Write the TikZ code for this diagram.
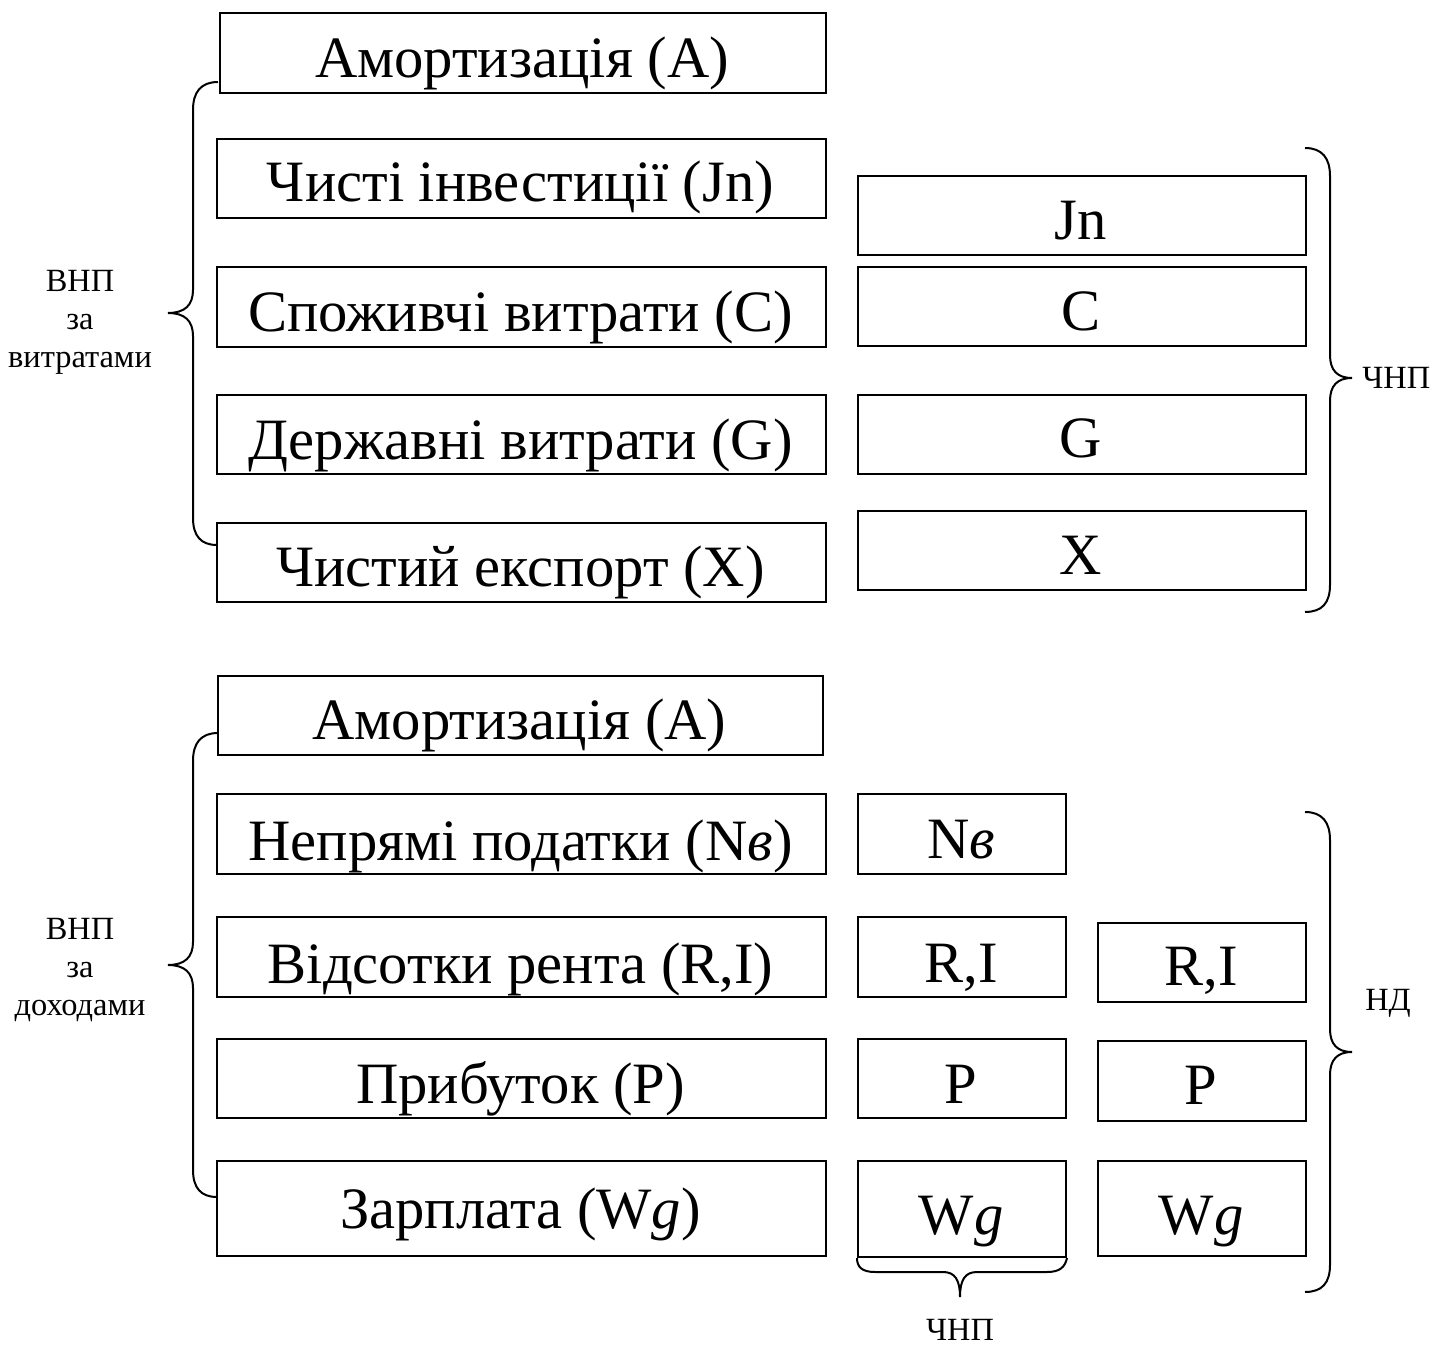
\documentclass[tikz,border=0pt]{standalone}
\usepackage{fontspec}
\setmainfont{Liberation Serif}
\begin{document}
\begin{tikzpicture}[x=0.5pt,y=-0.5pt,
  box/.style={draw, line width=1pt, rectangle, inner sep=0pt},
  big/.style={font=\fontsize{29.3}{32}\selectfont, inner sep=0pt},
  small/.style={font=\fontsize{16.2}{19}\selectfont, inner sep=0pt, align=center},
  bracepath/.style={line width=1pt}]
\newcommand\mybox[7]{%
  \node[box, anchor=north west, minimum width={(#4-#2)*0.5pt}, minimum height={(#5-#3)*0.5pt}] (#1) at (#2,#3) {};
  \node[big, anchor=base] (#1t) at ({(#2+#4)/2},#6) {#7};
}
\useasboundingbox (0,0) rectangle (1441,1347);
% upper part
\mybox{a1}{219}{12}{825}{92}{78}{Амортизація (А)}
\mybox{jn}{216}{138}{825}{217}{202}{Чисті інвестиції (Jn)}
\mybox{c}{216}{266}{825}{346}{332}{Споживчі витрати (С)}
\mybox{g}{216}{394}{825}{473}{460}{Державні витрати (G)}
\mybox{x}{216}{522}{825}{601}{587}{Чистий експорт (Х)}
\mybox{jnr}{857}{175}{1305}{254}{240}{Jn}
\mybox{cr}{857}{266}{1305}{345}{331}{С}
\mybox{gr}{857}{394}{1305}{473}{458}{G}
\mybox{xr}{857}{510}{1305}{589}{575}{Х}
% lower part
\mybox{a2}{217}{675}{822}{754}{740}{Амортизація (А)}
\mybox{nv}{216}{793}{825}{873}{860}{Непрямі податки (N\textit{в})}
\mybox{ri}{216}{916}{825}{996}{983}{Відсотки рента (R,I)}
\mybox{p}{216}{1038}{825}{1117}{1103}{Прибуток (Р)}
\mybox{wg}{216}{1160}{825}{1255}{1228}{Зарплата (W\textit{g})}
\mybox{nvm}{857}{793}{1065}{873}{858}{N\textit{в}}
\mybox{rim}{857}{916}{1065}{996}{982}{R,I}
\mybox{pm}{857}{1038}{1065}{1117}{1103}{Р}
\mybox{wgm}{857}{1160}{1065}{1256}{1234}{W\textit{g}}
\mybox{rir}{1097}{922}{1305}{1001}{985}{R,I}
\mybox{pr}{1097}{1040}{1305}{1120}{1104}{Р}
\mybox{wgr}{1097}{1160}{1305}{1255}{1234}{W\textit{g}}
% braces
\draw[bracepath] (218,82) .. controls (201,82) and (193,92) .. (193,110) -- (193,290)
  .. controls (193,305) and (185,313) .. (168,313)
  .. controls (185,313) and (193,321) .. (193,336) -- (193,518)
  .. controls (193,536) and (201,545) .. (217,545);
\draw[bracepath] (1305,148) .. controls (1322,148) and (1330,158) .. (1330,176) -- (1330,355)
  .. controls (1330,370) and (1337,378) .. (1352,378)
  .. controls (1337,378) and (1330,386) .. (1330,401) -- (1330,585)
  .. controls (1330,603) and (1322,612) .. (1305,612);
\draw[bracepath] (218,733) .. controls (201,733) and (193,743) .. (193,761) -- (193,942)
  .. controls (193,957) and (185,965) .. (168,965)
  .. controls (185,965) and (193,973) .. (193,988) -- (193,1170)
  .. controls (193,1188) and (201,1197) .. (217,1197);
\draw[bracepath] (1305,812) .. controls (1322,812) and (1330,822) .. (1330,840) -- (1330,1029)
  .. controls (1330,1044) and (1337,1052) .. (1352,1052)
  .. controls (1337,1052) and (1330,1060) .. (1330,1075) -- (1330,1265)
  .. controls (1330,1283) and (1322,1292) .. (1305,1292);
\draw[bracepath] (wgm.south west) .. controls (857,1267) and (862,1272) .. (875,1272) -- (943,1272)
  .. controls (955,1272) and (960,1280) .. (960,1297)
  .. controls (960,1280) and (965,1272) .. (977,1272) -- (1047,1272)
  .. controls (1060,1272) and (1065,1267) .. (wgm.south east);
% labels
\node[small] (l1) at (80,322) {ВНП\\за\\витратами};
\node[small] (l2) at (80,970) {ВНП\\за\\доходами};
\node[small, anchor=west] (r1) at (1362,378) {ЧНП};
\node[small] (r2) at (1388,1003) {НД};
\node[small] (b1) at (960,1330) {ЧНП};
\end{tikzpicture}
\end{document}
